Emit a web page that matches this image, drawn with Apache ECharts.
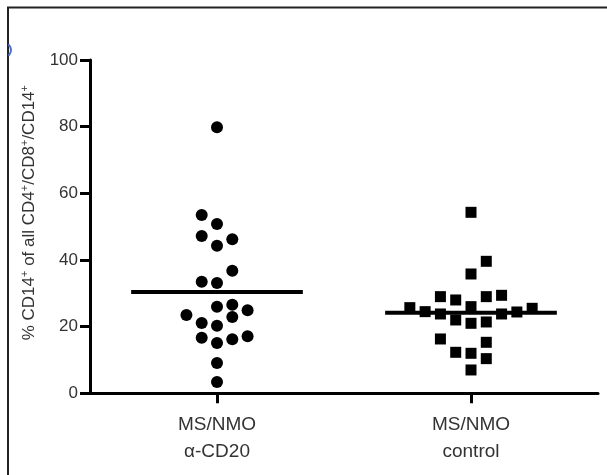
<!DOCTYPE html>
<html>
<head>
<meta charset="utf-8">
<script src="https://cdn.jsdelivr.net/npm/echarts@6/dist/echarts.min.js"></script>
<style>
html,body{margin:0;padding:0;background:#fff;}
#chart{width:607px;height:475px;}
</style>
</head>
<body>
<div id="chart"></div>
<script>
// ---- data ----
const categories = ['MS/NMO\nα-CD20', 'MS/NMO\ncontrol'];
const yTicks = [0, 20, 40, 60, 80, 100];
const antiCD20Values = [79.8, 53.5, 50.8, 47.2, 46.2, 44.3, 36.8, 33.5, 33.1, 26.6, 26.0, 24.9, 23.5, 22.9, 21.1, 20.3, 17.1, 16.7, 16.2, 15.1, 9.1, 3.4];
const antiCD20Column = [0, -1, 0, -1, 1, 0, 1, -1, 0, 1, 0, 2, -2, 1, -1, 0, 2, -1, 1, 0, 0, 0];
const controlValues = [54.3, 39.6, 35.8, 29.0, 28.0, 29.0, 29.4, 25.7, 26.0, 25.5, 24.5, 24.4, 23.8, 23.8, 22.0, 21.0, 21.4, 16.3, 15.3, 12.3, 12.0, 10.4, 7.0];
const controlColumn = [0, 1, 0, -2, -1, 1, 2, -4, 0, 4, -3, 3, -2, 2, -1, 0, 1, -2, 1, -1, 0, 1, 0];

// ---- layout helpers ----
const COL_STEP = 0.0602;   // horizontal spacing of swarm columns (axis units)
const MEAN_HALF = 0.338;   // half-width of mean bar (axis units)
function swarm(values, cols, center) {
  return values.map((v, i) => [center + cols[i] * COL_STEP, v]);
}
function mean(a) { return a.reduce((s, v) => s + v, 0) / a.length; }
function meanBar(values, center) {
  const m = mean(values);
  return [[center - MEAN_HALF, m], [center + MEAN_HALF, m]];
}

const chart = echarts.init(document.getElementById('chart'), null, {renderer: 'canvas'});
const txt = '#333333';
const option = {
  animation: false,
  backgroundColor: '#ffffff',
  grid: {left: 90, top: 60, width: 508, height: 333.3, containLabel: false},
  xAxis: {
    type: 'value', min: 0.5, max: 2.5,
    axisLine: {show: true, onZero: false, lineStyle: {color: '#000', width: 3}},
    axisTick: {show: true, customValues: [1, 2], length: 10, inside: false, lineStyle: {color: '#000', width: 3}},
    axisLabel: {
      show: true, customValues: [1, 2], margin: 18,
      formatter: v => categories[Math.round(v) - 1] || '',
      fontFamily: 'Liberation Sans, Arial, sans-serif', fontSize: 19, lineHeight: 27, color: txt
    },
    splitLine: {show: false}
  },
  yAxis: {
    type: 'value', min: yTicks[0], max: yTicks[yTicks.length - 1], interval: yTicks[1] - yTicks[0],
    name: '% CD14{s|+} of all CD4{s|+}/CD8{s|+}/CD14{s|+}',
    nameLocation: 'middle', nameGap: 51, nameRotate: 90,
    nameTextStyle: {
      fontFamily: 'Liberation Sans, Arial, sans-serif', fontSize: 17, color: txt,
      padding: [0, 0, 0, 28],
      rich: {s: {fontSize: 11, verticalAlign: 'top', padding: [0, 0, 9, 0], color: txt}}
    },
    axisLine: {show: true, lineStyle: {color: '#000', width: 3}},
    axisTick: {show: true, length: 10, inside: false, lineStyle: {color: '#000', width: 3}},
    axisLabel: {margin: 12, fontFamily: 'Liberation Sans, Arial, sans-serif', fontSize: 17, color: txt},
    splitLine: {show: false}
  },
  series: [
    {type: 'scatter', data: swarm(antiCD20Values, antiCD20Column, 1), symbol: 'circle', symbolSize: 12,
     itemStyle: {color: '#000', opacity: 1}, silent: true, z: 3},
    {type: 'scatter', data: swarm(controlValues, controlColumn, 2), symbol: 'rect', symbolSize: 11,
     itemStyle: {color: '#000', opacity: 1}, silent: true, z: 3},
    {type: 'line', data: meanBar(antiCD20Values, 1), symbol: 'none', lineStyle: {color: '#000', width: 4}, silent: true, z: 4},
    {type: 'line', data: meanBar(controlValues, 2), symbol: 'none', lineStyle: {color: '#000', width: 4}, silent: true, z: 4}
  ],
  graphic: [
    {type: 'line', shape: {x1: 7, y1: 7.5, x2: 607, y2: 7.5}, style: {stroke: '#222', lineWidth: 2}, silent: true},
    {type: 'line', shape: {x1: 8, y1: 7, x2: 8, y2: 475}, style: {stroke: '#222', lineWidth: 2}, silent: true},
    {type: 'arc', shape: {cx: 4, cy: 50, r: 7, startAngle: -0.9, endAngle: 0.9}, style: {stroke: '#4a6fd0', lineWidth: 2, fill: null}, silent: true}
  ]
};
chart.setOption(option);
</script>
</body>
</html>
